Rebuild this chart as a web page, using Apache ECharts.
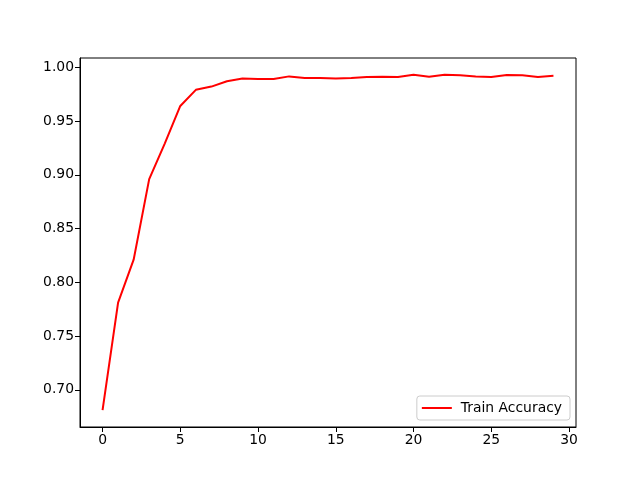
<!DOCTYPE html>
<html><head><meta charset="utf-8">
<script src="https://cdn.jsdelivr.net/npm/echarts@6/dist/echarts.min.js"></script>
<style>html,body{margin:0;padding:0;background:#fff}#c{width:640px;height:480px}</style>
</head><body><div id="c"></div>
<script>
const epochs = [0,1,2,3,4,5,6,7,8,9,10,11,12,13,14,15,16,17,18,19,20,21,22,23,24,25,26,27,28,29];
const trainAccuracy = [0.681,0.781,0.821,0.896,0.929,0.964,0.979,0.982,0.987,0.9895,0.989,0.989,0.9915,0.990,0.990,0.9895,0.990,0.991,0.9912,0.991,0.993,0.9912,0.993,0.9925,0.9915,0.991,0.9928,0.9925,0.991,0.992];
const xTicks = [0,5,10,15,20,25,30];
const yTicks = [0.70,0.75,0.80,0.85,0.90,0.95,1.00];

const chart = echarts.init(document.getElementById('c'), null, {renderer:'canvas'});
const font = 'DejaVu Sans';
chart.setOption({
  animation:false,
  backgroundColor:'#fff',
  grid:{left:80,right:64,top:58,bottom:53,show:true,borderColor:'#000',borderWidth:1,backgroundColor:'transparent'},
  xAxis:{type:'value',min:-1.45,max:30.45,
    axisLine:{show:true,onZero:false,lineStyle:{color:'#000',width:1}},
    splitLine:{show:false},
    axisTick:{show:true,length:5,lineStyle:{color:'#000'},customValues:xTicks},
    axisLabel:{color:'#000',fontFamily:font,fontSize:13.9,margin:6,customValues:xTicks,formatter:v=>String(v)}
  },
  yAxis:{type:'value',min:0.6654,max:1.0086,
    axisLine:{show:true,onZero:false,lineStyle:{color:'#000',width:1}},
    splitLine:{show:false},
    axisTick:{show:true,length:5,lineStyle:{color:'#000'},customValues:yTicks},
    axisLabel:{color:'#000',fontFamily:font,fontSize:13.9,margin:6,customValues:yTicks,formatter:v=>v.toFixed(2)}
  },
  legend:{show:true,right:70,bottom:60,orient:'vertical',
    backgroundColor:'rgba(255,255,255,0.8)',borderColor:'#ccc',borderWidth:1,borderRadius:3,
    padding:[5,8,5,5],itemWidth:30,itemHeight:14,itemGap:5,
    textStyle:{color:'#000',fontFamily:font,fontSize:13.9,padding:[0,0,0,4]},
    data:[{name:'Train Accuracy',icon:'path://M0,6 L30,6 L30,8 L0,8 Z'}]
  },
  series:[{name:'Train Accuracy',type:'line',showSymbol:false,symbol:'none',
    lineStyle:{color:'#ff0000',width:2},itemStyle:{color:'#ff0000'},
    data:epochs.map((e,i)=>[e,trainAccuracy[i]])}]
});
</script></body></html>
